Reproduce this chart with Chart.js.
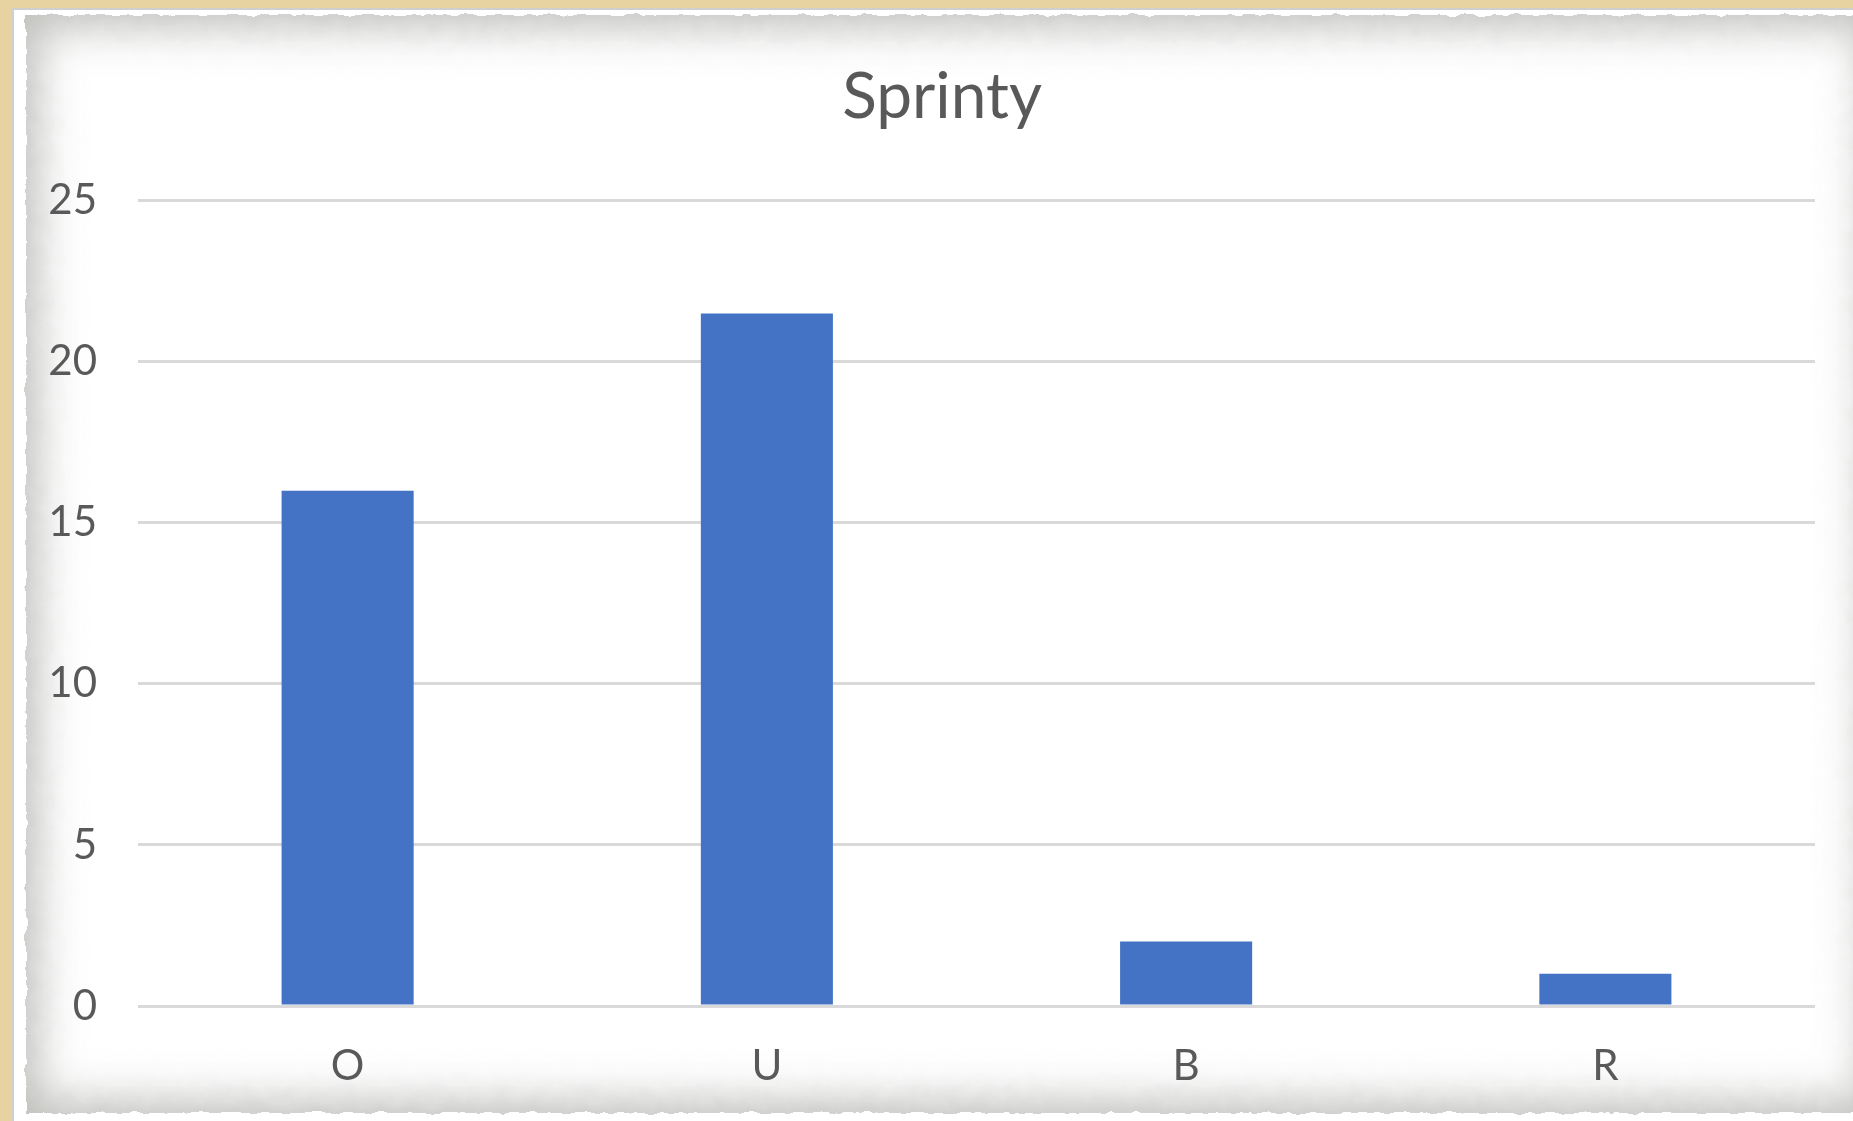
<!DOCTYPE html>
<html>
<head>
<meta charset="utf-8">
<script src="https://cdn.jsdelivr.net/npm/chart.js@4"></script>
<style>
  html, body { margin: 0; padding: 0; }
  body {
    width: 1853px; height: 1121px; overflow: hidden; position: relative;
    background: #e7d3a1;
  }
  #frame {
    position: absolute; left: 12px; top: 8px; width: 1860px; height: 1130px;
    background: #ffffff; border: 2px solid #cfcfcf; box-sizing: border-box;
  }
  #paper {
    position: absolute; left: 26px; top: 15px; width: 1850px; height: 1098px;
    background: #ffffff;
    box-shadow: inset 0 0 44px 12px rgba(125,125,120,0.5);
    filter: url(#rough);
  }
  #wrap { position: absolute; left: 0; top: 0; width: 1884px; height: 1121px; }
</style>
</head>
<body>
<svg width="0" height="0" style="position:absolute">
  <filter id="rough" x="-2%" y="-2%" width="104%" height="104%">
    <feTurbulence type="fractalNoise" baseFrequency="0.06" numOctaves="3" seed="4"/>
    <feDisplacementMap in="SourceGraphic" scale="7" xChannelSelector="R" yChannelSelector="G"/>
  </filter>
</svg>
<div id="frame"></div>
<div id="paper"></div>
<div id="wrap"><canvas id="c" width="1884" height="1121"></canvas></div>
<script>
// Sprint counts per category
const categories = ['O', 'U', 'B', 'R'];
const sprintCounts = [16, 21.5, 2, 1];
const yTicks = [0, 5, 10, 15, 20, 25];

const textColor = '#595959';
const fontFamily = 'Lato, "Open Sans", sans-serif';

new Chart(document.getElementById('c'), {
  type: 'bar',
  data: {
    labels: categories,
    datasets: [{
      label: 'Sprinty',
      data: sprintCounts,
      backgroundColor: '#4472C4',
      borderWidth: 0,
      categoryPercentage: 0.63,
      barPercentage: 0.5
    }]
  },
  options: {
    responsive: false,
    animation: false,
    layout: { padding: 0 },
    plugins: {
      legend: { display: false },
      tooltip: { enabled: false },
      title: {
        display: true,
        text: 'Sprinty',
        color: textColor,
        font: { family: fontFamily, size: 64, weight: 'normal' },
        padding: { top: 59, bottom: 65 }
      }
    },
    scales: {
      x: {
        grid: { display: false, drawTicks: false },
        border: { display: false },
        ticks: { color: textColor, font: { family: fontFamily, size: 42 }, padding: 35 },
        afterFit: s => { s.height = 115; }
      },
      y: {
        min: yTicks[0],
        max: yTicks[yTicks.length - 1],
        afterBuildTicks: s => { s.ticks = yTicks.map(v => ({ value: v })); },
        grid: { color: '#d9d9d9', lineWidth: 3, drawTicks: false },
        border: { display: false },
        ticks: { color: textColor, font: { family: fontFamily, size: 42 }, padding: 41 },
        afterFit: s => { s.width = 138; }
      },
      // empty right-hand margin beside the plot
      yRight: {
        position: 'right',
        min: yTicks[0],
        max: yTicks[yTicks.length - 1],
        grid: { display: false, drawTicks: false },
        border: { display: false },
        ticks: { display: false },
        afterFit: s => { s.width = 69; }
      }
    }
  }
});
</script>
</body>
</html>
